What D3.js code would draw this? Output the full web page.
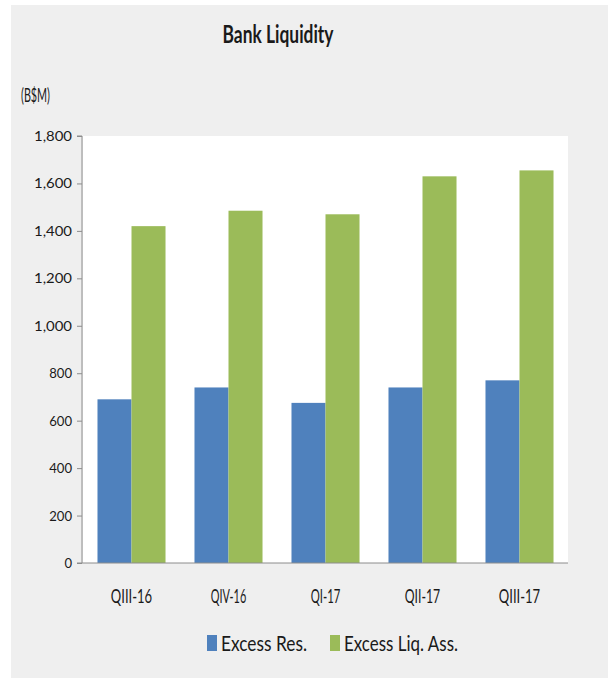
<!DOCTYPE html>
<html>
<head>
<meta charset="utf-8">
<script src="https://cdn.jsdelivr.net/npm/d3@7"></script>
<style>
  html, body { margin: 0; padding: 0; background: #ffffff; }
  svg { display: block; }
  text { font-family: Lato, "Open Sans", sans-serif; fill: #1a1a1a; }
</style>
</head>
<body>
<svg id="chart" width="608" height="680"></svg>
<script>
// Quarterly bank liquidity, B$M
const quarters = ["QIII-16", "QIV-16", "QI-17", "QII-17", "QIII-17"];
const excessReserves = [690, 740, 675, 740, 770];
const excessLiquidAssets = [1420, 1485, 1470, 1630, 1655];
const seriesNames = ["Excess Res.", "Excess Liq. Ass."];
const seriesColors = ["#4f81bd", "#9bbb59"];
const yTicks = [0, 200, 400, 600, 800, 1000, 1200, 1400, 1600, 1800];

const rows = quarters.map((q, i) => ({ q, values: [excessReserves[i], excessLiquidAssets[i]] }));

const svg = d3.select("#chart");
const W = 608, H = 680;
const plot = { left: 83, right: 568, top: 136, bottom: 563 };

svg.append("rect").attr("width", W).attr("height", H).attr("fill", "#ffffff");
// chart area
svg.append("rect").attr("x", 11).attr("y", 5).attr("width", W - 11).attr("height", H - 7)
  .attr("fill", "#efefef");

// plot area
svg.append("rect")
  .attr("x", plot.left).attr("y", plot.top)
  .attr("width", plot.right - plot.left).attr("height", plot.bottom - plot.top)
  .attr("fill", "#ffffff");

const x = d3.scaleBand().domain(quarters).range([plot.left, plot.right]).padding(0);
const xs = d3.scaleBand().domain([0, 1]).range([0, x.bandwidth()])
  .paddingInner(0).paddingOuter(0.426);
const y = d3.scaleLinear().domain([0, 1800]).range([plot.bottom, plot.top]);

// bars
const groups = svg.append("g").selectAll("g").data(rows).join("g")
  .attr("transform", d => `translate(${x(d.q)},0)`);
groups.selectAll("rect").data(d => d.values).join("rect")
  .attr("x", (v, i) => xs(i))
  .attr("width", xs.bandwidth())
  .attr("y", v => y(v))
  .attr("height", v => y(0) - y(v))
  .attr("fill", (v, i) => seriesColors[i]);

// y axis
const yAxis = d3.axisLeft(y).tickValues(yTicks).tickSize(5).tickPadding(5)
  .tickFormat(d3.format(","));
const gy = svg.append("g").attr("transform", `translate(${plot.left - 1},0)`).call(yAxis);
gy.select(".domain").attr("stroke", "#8c8c8c").attr("d", `M-5,${plot.top}H0V${plot.bottom}`);
gy.selectAll(".tick line").attr("stroke", "#8c8c8c");
gy.selectAll(".tick text")
  .attr("font-size", 14).attr("fill", "#1a1a1a")
  .style("font-family", "Lato, sans-serif")
  .each(function (d) {
    const s = d3.format(",")(d);
    d3.select(this).attr("textLength", s.length * 7.6).attr("lengthAdjust", "spacingAndGlyphs");
  });

// x axis
const xAxis = d3.axisBottom(x).tickSize(0).tickPadding(0);
const gx = svg.append("g").attr("transform", `translate(0,${plot.bottom})`).call(xAxis);
gx.select(".domain").attr("stroke", "#8c8c8c").attr("d", `M${plot.left - 6},0H${plot.right}`);
gx.selectAll(".tick text")
  .attr("y", 40).attr("dy", 0)
  .attr("font-size", 19).attr("fill", "#1a1a1a")
  .style("font-family", "Lato, sans-serif")
  .each(function (d) {
    d3.select(this).attr("textLength", d.length * 5.9).attr("lengthAdjust", "spacingAndGlyphs");
  });

// title
svg.append("text").attr("x", 278).attr("y", 43)
  .attr("text-anchor", "middle").attr("font-size", 24).attr("font-weight", 700)
  .attr("textLength", 111).attr("lengthAdjust", "spacingAndGlyphs")
  .text("Bank Liquidity");

// unit label
svg.append("text").attr("x", 21).attr("y", 102)
  .attr("font-size", 19)
  .attr("textLength", 29).attr("lengthAdjust", "spacingAndGlyphs")
  .text("(B$M)");

// legend
const legendItems = [
  { name: seriesNames[0], color: seriesColors[0], x: 207, w: 86 },
  { name: seriesNames[1], color: seriesColors[1], x: 330, w: 114 }
];
const lg = svg.append("g").selectAll("g").data(legendItems).join("g")
  .attr("transform", d => `translate(${d.x},0)`);
lg.append("rect").attr("x", 0).attr("y", 635).attr("width", 10).attr("height", 16)
  .attr("fill", d => d.color);
lg.append("text").attr("x", 14).attr("y", 651)
  .attr("font-size", 22)
  .attr("textLength", d => d.w).attr("lengthAdjust", "spacingAndGlyphs")
  .text(d => d.name);
</script>
</body>
</html>
